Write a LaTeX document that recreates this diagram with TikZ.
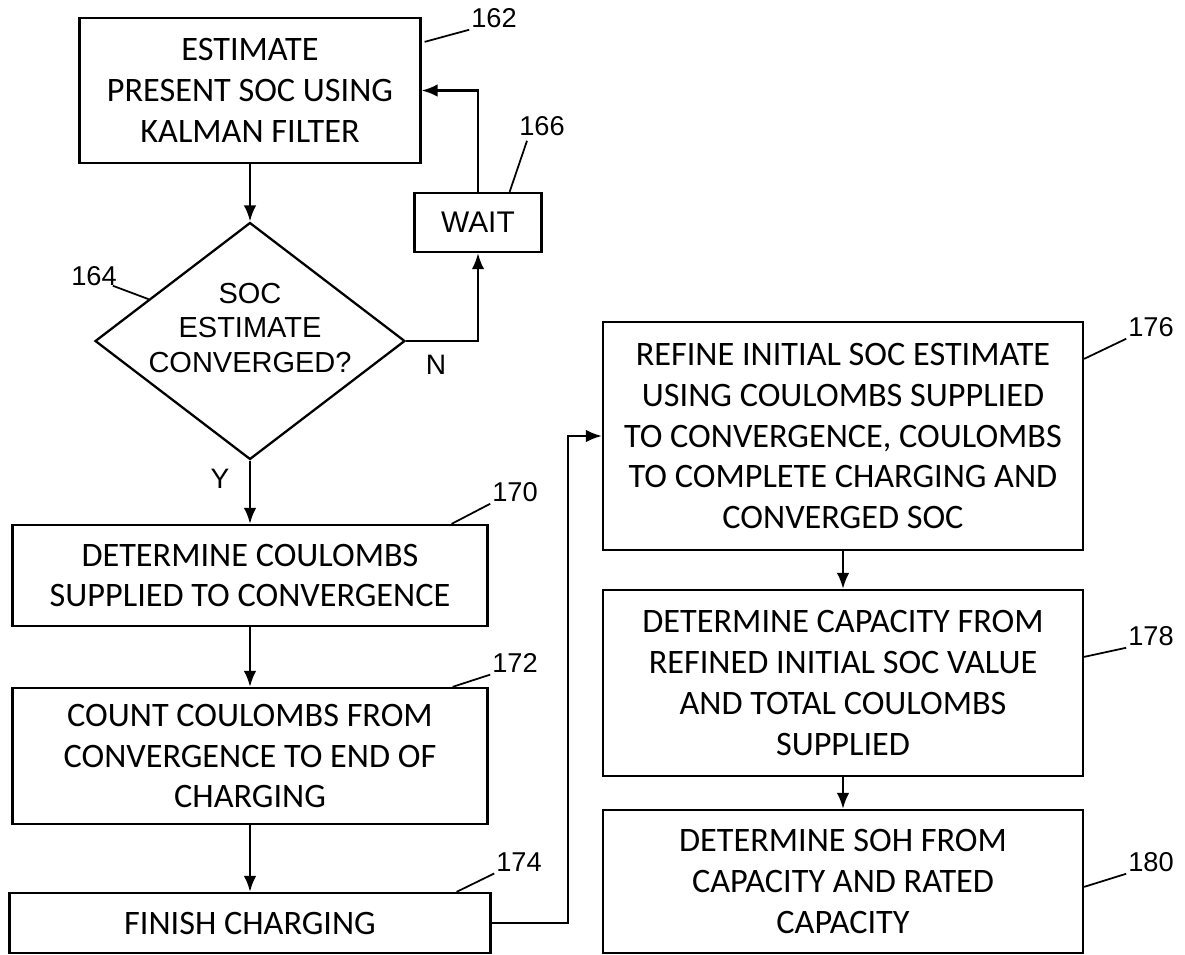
\documentclass[tikz,border=0pt]{standalone}
\usepackage{fontspec}
\setmainfont{Carlito}
\newfontfamily\arialfont{Liberation Sans}
\usepackage{tikz}
\usetikzlibrary{calc}
\usetikzlibrary{shapes.geometric}
\usetikzlibrary{arrows.meta}

\tikzset{
	stepbox/.style={draw,line width=1.3pt,inner sep=0pt,align=center,font=\fontsize{19.5}{23.2}\selectfont},
	decision/.style={draw,diamond,line width=1.3pt,inner sep=0pt},
	decisiontext/.style={align=center,inner sep=0pt,yshift=0.26cm,font=\arialfont\fontsize{16.5}{19.8}\selectfont},
	waitbox/.style={draw,line width=1.3pt,inner sep=0pt,font=\arialfont\fontsize{17}{20}\selectfont},
	refnum/.style={inner sep=1pt,font=\arialfont\fontsize{15.5}{18}\selectfont},
	yesno/.style={inner sep=0pt,font=\arialfont\fontsize{16}{18}\selectfont},
	flow/.style={line width=1.3pt,-{Latex[length=3.2mm,width=2.5mm]}},
	lead/.style={line width=1pt}
}

\begin{document}
\begin{tikzpicture}[x=0.02cm,y=-0.02cm]
\useasboundingbox (0,0) rectangle (1185,954);
% left column
\node[stepbox,minimum width=6.82cm,minimum height=2.9cm] (b162) at (250,90.5) {ESTIMATE\\PRESENT SOC USING\\KALMAN FILTER};
\node[decision,minimum width=6.2cm,minimum height=4.74cm,
	label={[decisiontext]center:{SOC\\ESTIMATE\\CONVERGED?}}] (d164) at (250,341) {};
\node[waitbox,minimum width=2.54cm,minimum height=1.18cm] (wait) at (478,222.5) {WAIT};
\node[stepbox,minimum width=9.5cm,minimum height=2.02cm] (b170) at (250,575.5) {DETERMINE COULOMBS\\SUPPLIED TO CONVERGENCE};
\node[stepbox,minimum width=9.5cm,minimum height=2.72cm] (b172) at (250,756) {COUNT COULOMBS FROM\\CONVERGENCE TO END OF\\CHARGING};
\node[stepbox,minimum width=9.62cm,minimum height=1.2cm] (b174) at (250,923) {FINISH CHARGING};
% right column
\node[stepbox,minimum width=9.6cm,minimum height=4.56cm] (b176) at (843,436) {REFINE INITIAL SOC ESTIMATE\\USING COULOMBS SUPPLIED\\TO CONVERGENCE, COULOMBS\\TO COMPLETE CHARGING AND\\CONVERGED SOC};
\node[stepbox,minimum width=9.6cm,minimum height=3.72cm] (b178) at (843,683) {DETERMINE CAPACITY FROM\\REFINED INITIAL SOC VALUE\\AND TOTAL COULOMBS\\SUPPLIED};
\node[stepbox,minimum width=9.6cm,minimum height=2.86cm] (b180) at (843,881.5) {DETERMINE SOH FROM\\CAPACITY AND RATED\\CAPACITY};

% reference numerals
\node[refnum] (n162) at (494,18) {162};
\node[refnum] (n164) at (94,276) {164};
\node[refnum] (n166) at (542,126) {166};
\node[refnum] (n170) at (515,492) {170};
\node[refnum] (n172) at (515,663) {172};
\node[refnum] (n174) at (519,862) {174};
\node[refnum] (n176) at (1151,327) {176};
\node[refnum] (n178) at (1151,636) {178};
\node[refnum] (n180) at (1151,862) {180};
\node[yesno] (nN) at (436,365) {N};
\node[yesno] (nY) at (220,479) {Y};

\coordinate (jog) at (568,923);

% flow
\draw[flow] (b162) -- (d164);
\draw[flow] (d164.east) -| (wait.south);
\draw[flow] (wait.north) |- (b162.east);
\draw[flow] (d164.south) -- (b170.north);
\draw[flow] (b170) -- (b172);
\draw[flow] (b172) -- (b174);
\draw[flow] (b174.east) -- (jog) |- (b176.west);
\draw[flow] (b176) -- (b178);
\draw[flow] (b178) -- (b180);

% leaders
\draw[lead] (n162.south west) -- ([shift={(3,25)}]b162.north east);
\draw[lead] ([shift={(-6,-2)}]n164.south east) -- ($(d164.west)!0.35!(d164.north)$);
\draw[lead] ([shift={(-15,3)}]n166.south) -- ([shift={(-33,0)}]wait.north east);
\draw[lead] (n170.south west) -- ([shift={(-37,0)}]b170.north east);
\draw[lead] (n172.south west) -- ([shift={(-36,0)}]b172.north east);
\draw[lead] (n174.south west) -- ([shift={(-35,0)}]b174.north east);
\draw[lead] (n176.south west) -- ([shift={(0,38)}]b176.north east);
\draw[lead] (n178.south west) -- ([shift={(0,68)}]b178.north east);
\draw[lead] (n180.south west) -- ([shift={(0,78)}]b180.north east);
\end{tikzpicture}
\end{document}
